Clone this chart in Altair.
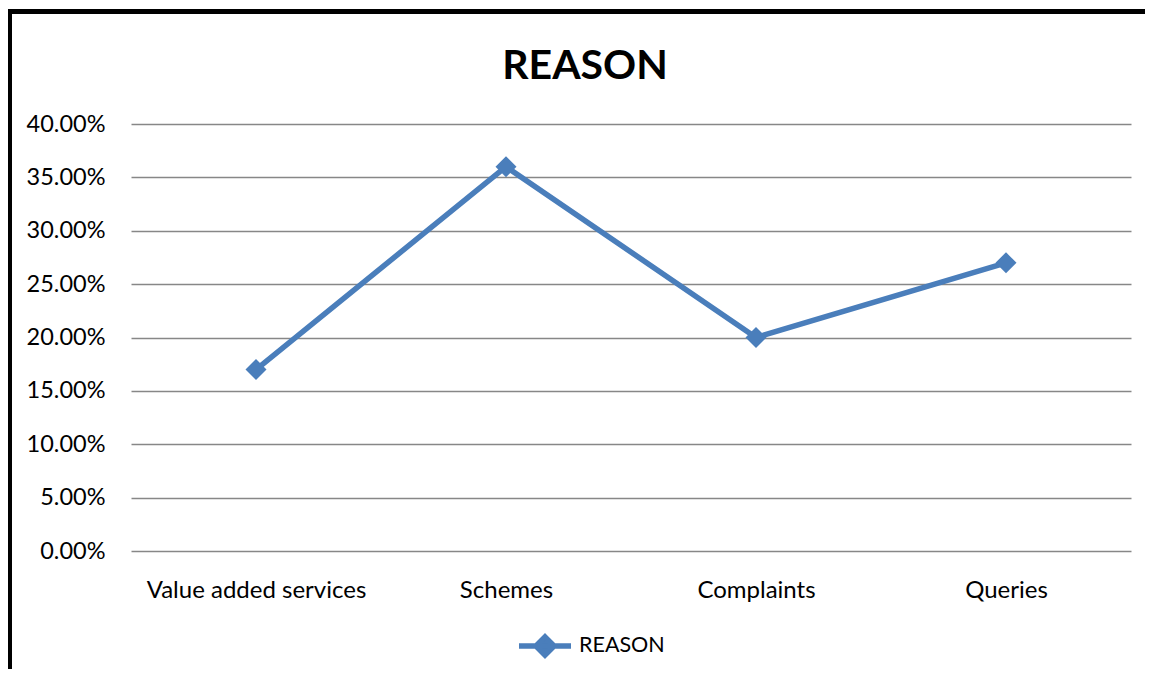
import altair as alt
import pandas as pd

categories = ["Value added services", "Schemes", "Complaints", "Queries"]
values = [0.17, 0.36, 0.20, 0.27]
series = ["REASON"] * 4
y_ticks = [0, 0.05, 0.10, 0.15, 0.20, 0.25, 0.30, 0.35, 0.40]

df = pd.DataFrame({"cat": categories, "val": values, "series": series})

BLUE = "#4A7EBB"
FONT = "Lato"

x = alt.X("cat:N", sort=categories, title=None,
          scale=alt.Scale(type="point", padding=0.5),
          axis=alt.Axis(labelAngle=0, labelFontSize=24, labelFont=FONT, labelColor="#000",
                        labelPadding=27, labelLimit=0, ticks=False, domain=False, grid=False))
y = alt.Y("val:Q", title=None, scale=alt.Scale(domain=[0, 0.4]),
          axis=alt.Axis(values=y_ticks, format=".2%", labelFontSize=23.5, labelFont=FONT,
                        labelColor="#000", labelPadding=26, ticks=False, domain=False,
                        grid=True, gridColor="#878787", gridWidth=1.6))

color = alt.Color("series:N", title=None,
                  scale=alt.Scale(range=[BLUE]),
                  legend=alt.Legend(orient="none", legendX=385, legendY=493,
                                    symbolType="M-1,0L1,0M0,-0.35L0.35,0L0,0.35L-0.35,0Z",
                                    symbolSize=2704, symbolStrokeWidth=5.5,
                                    symbolFillColor=BLUE, symbolStrokeColor=BLUE,
                                    labelFontSize=21.5, labelFont=FONT, labelColor="#000",
                                    labelOffset=5, padding=0))

line = alt.Chart(df).mark_line(strokeWidth=5.5).encode(x=x, y=y, color=color)
pts = alt.Chart(df).mark_point(shape="diamond", filled=True, size=440, opacity=1).encode(
    x=x, y=y, color=alt.Color("series:N", scale=alt.Scale(range=[BLUE]), legend=None))

frame_top = alt.Chart(df).mark_rule(color="#000", strokeWidth=5).encode(
    x=alt.value(-125), x2=alt.value(1030), y=alt.value(-112.5))
frame_left = alt.Chart(df).mark_rule(color="#000", strokeWidth=5).encode(
    x=alt.value(-121.5), y=alt.value(-115), y2=alt.value(560))

chart = alt.layer(line, pts, frame_top, frame_left).properties(
    width=1000, height=427,
    title=alt.Title("REASON", fontSize=41, font=FONT, fontWeight="bold", color="#000",
                    anchor="middle", offset=0, baseline="alphabetic", dy=113, dx=-46),
    autosize=alt.AutoSizeParams(type="none"),
    padding={"left": 123, "top": 116, "right": 14, "bottom": 118},
).configure_view(stroke=None)

chart.save("out.html", embed_options={"renderer": "svg", "actions": False})
